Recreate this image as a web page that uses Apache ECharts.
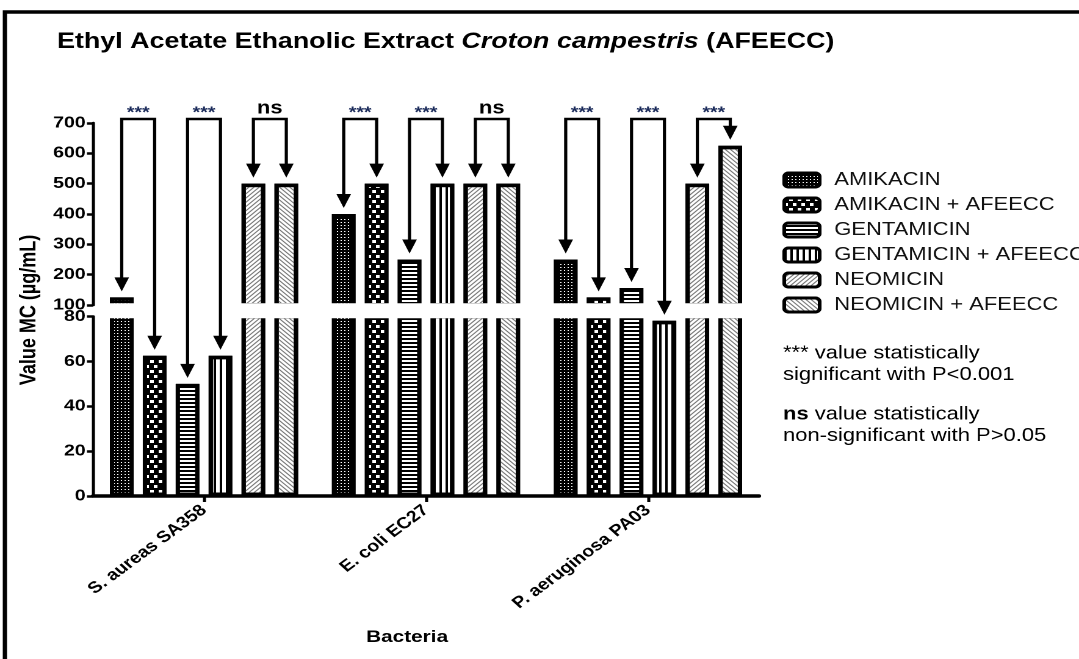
<!DOCTYPE html>
<html>
<head>
<meta charset="utf-8">
<script src="https://cdn.jsdelivr.net/npm/echarts@6/dist/echarts.min.js"></script>
<style>
  html, body { margin: 0; padding: 0; overflow: hidden; background: #fff; width: 1079px; height: 659px; }
  #chart { width: 884px; height: 659px; transform: scaleX(1.2206); transform-origin: 0 0; }
</style>
</head>
<body>
<div id="chart"></div>
<script>
// ---------------- data ----------------
const categories = ['S. aureas SA358', 'E. coli EC27', 'P. aeruginosa PA03'];
const seriesNames = ['AMIKACIN', 'AMIKACIN + AFEECC', 'GENTAMICIN', 'GENTAMICIN + AFEECC', 'NEOMICIN', 'NEOMICIN + AFEECC'];
const amikacin         = [125, 400, 250];
const amikacinAfeecc   = [62.5, 500, 125];
const gentamicin       = [50, 250, 156.25];
const gentamicinAfeecc = [62.5, 500, 78.125];
const neomicin         = [500, 500, 500];
const neomicinAfeecc   = [500, 500, 625];
const seriesValues = [amikacin, amikacinAfeecc, gentamicin, gentamicinAfeecc, neomicin, neomicinAfeecc];
const upperAxis = { min: 100, max: 700, interval: 100 };
const lowerAxis = { min: 0, max: 80, interval: 20 };
// significance comparisons: [category index, series a, series b, label]
const comparisons = [
  [0, 0, 1, '***'], [0, 2, 3, '***'], [0, 4, 5, 'ns'],
  [1, 0, 1, '***'], [1, 2, 3, '***'], [1, 4, 5, 'ns'],
  [2, 0, 1, '***'], [2, 2, 3, '***'], [2, 4, 5, '***']
];
const titleParts = ['Ethyl Acetate Ethanolic Extract ', 'Croton campestris', ' (AFEECC)'];
const yName = 'Value MC (µg/mL)';
const xName = 'Bacteria';

// ---------------- styles ----------------
const FONT = "'Liberation Sans', Arial, sans-serif";
const BORDER = 3.5;
const BAR_W = 19.4;
const BAR_GAP = 0.39;
const GRID_LEFT = 76.2, GRID_W = 545.6;
const patterns = [
  { color: '#000', decal: { symbol: 'rect', symbolSize: 1, color: '#fff', dashArrayX: [1, 2], dashArrayY: [1, 2] } },
  { color: '#000', decal: { symbol: 'rect', symbolSize: 1, color: '#fff', dashArrayX: [[3, 4], [0, 4, 3, 0]], dashArrayY: [3, 2] } },
  { color: '#000', decal: { symbol: 'rect', symbolSize: 1, color: '#fff', dashArrayX: [1, 0], dashArrayY: [2, 2] } },
  { color: '#fff', decal: { symbol: 'rect', symbolSize: 1, color: '#000', dashArrayX: [2, 3], dashArrayY: [1, 0] } },
  { color: '#fff', decal: { symbol: 'rect', symbolSize: 1, color: '#777', dashArrayX: [1, 0], dashArrayY: [1, 2], rotation: -Math.PI / 4 } },
  { color: '#fff', decal: { symbol: 'rect', symbolSize: 1, color: '#777', dashArrayX: [1, 0], dashArrayY: [1, 2], rotation: Math.PI / 4 } }
];

const chart = echarts.init(document.getElementById('chart'), null, { devicePixelRatio: 2 });

function makeSeries(gridIdx) {
  return seriesNames.map((name, i) => ({
    name: name,
    type: 'bar',
    xAxisIndex: gridIdx,
    yAxisIndex: gridIdx,
    data: seriesValues[i],
    barWidth: BAR_W,
    barGap: (BAR_GAP * 100) + '%',
    clip: true,
    itemStyle: { color: patterns[i].color, decal: patterns[i].decal, borderColor: '#000', borderWidth: BORDER },
    emphasis: { disabled: true }
  }));
}

const yAxisCommon = {
  type: 'value',
  axisLine: { show: true, lineStyle: { color: '#000', width: 2.5 } },
  axisTick: { show: true, length: 5, lineStyle: { color: '#000', width: 2.5 } },
  axisLabel: { color: '#000', fontFamily: FONT, fontWeight: 'bold', fontSize: 16, margin: 6 },
  splitLine: { show: false }
};

const option = {
  animation: false,
  backgroundColor: '#fff',
  title: {
    text: '{b|' + titleParts[0] + '}{i|' + titleParts[1] + '}{b|' + titleParts[2] + '}',
    left: 46.7, top: 31, padding: 0,
    textStyle: {
      rich: {
        b: { fontFamily: FONT, fontWeight: 'bold', fontSize: 22, color: '#000' },
        i: { fontFamily: FONT, fontWeight: 'bold', fontStyle: 'italic', fontSize: 22, color: '#000' }
      }
    }
  },
  legend: {
    data: seriesNames,
    orient: 'vertical',
    left: 636, top: 166,
    itemWidth: 29, itemHeight: 14, itemGap: 7,
    icon: 'roundRect',
    selectedMode: false,
    itemStyle: { borderColor: '#000', borderWidth: 3 },
    textStyle: { fontFamily: FONT, fontSize: 18, color: '#111', padding: [0, 0, 0, 7] }
  },
  grid: [
    { left: GRID_LEFT, width: GRID_W, top: 123, height: 182 },
    { left: GRID_LEFT, width: GRID_W, top: 316.5, height: 179.5 }
  ],
  xAxis: [
    { type: 'category', gridIndex: 0, data: categories, show: false },
    {
      type: 'category', gridIndex: 1, data: categories,
      axisLine: { show: true, lineStyle: { color: '#000', width: 3.5 } },
      axisTick: { show: true, alignWithLabel: true, length: 6, lineStyle: { color: '#000', width: 2.5 } },
      axisLabel: { color: '#000', fontFamily: FONT, fontWeight: 'bold', fontSize: 16, rotate: 42, margin: 12 },
      name: xName, nameLocation: 'middle', nameGap: 133,
      nameTextStyle: { color: '#000', fontFamily: FONT, fontWeight: 'bold', fontSize: 17, padding: [0, 31, 0, 0] }
    }
  ],
  yAxis: [
    Object.assign({}, yAxisCommon, { gridIndex: 0, min: upperAxis.min, max: upperAxis.max, interval: upperAxis.interval }),
    Object.assign({}, yAxisCommon, { gridIndex: 1, min: lowerAxis.min, max: lowerAxis.max, interval: lowerAxis.interval })
  ],
  series: makeSeries(0).concat(makeSeries(1))
};

chart.setOption(option);

// ------------- annotations computed from the chart's own scales -------------
function yPix(v) {
  return v > lowerAxis.max ? chart.convertToPixel({ yAxisIndex: 0 }, v) : chart.convertToPixel({ yAxisIndex: 1 }, v);
}
function barX(s, c) {
  try {
    const l = chart.getModel().getSeriesByIndex(6 + s).getData().getItemLayout(c);
    if (l && isFinite(l.x)) return l.x + l.width / 2;
  } catch (e) {}
  const cx = chart.convertToPixel({ xAxisIndex: 1 }, categories[c]);
  const gap = BAR_W * BAR_GAP;
  const total = 6 * BAR_W + 5 * gap;
  return cx - total / 2 + s * (BAR_W + gap) + BAR_W / 2;
}

const graphics = [];
// outer frame
graphics.push({ type: 'rect', z: 100, silent: true, shape: { x: 4, y: 12, width: 2000, height: 2000 },
  style: { fill: null, stroke: '#000', lineWidth: 3.5 } });
// white break between the two value segments
const y100 = yPix(upperAxis.min), y80 = yPix(lowerAxis.max);
graphics.push({ type: 'rect', z: 50, silent: true,
  shape: { x: GRID_LEFT + 2, y: y100 - BORDER / 2, width: GRID_W + 6, height: (y80 + BORDER / 2) - (y100 - BORDER / 2) },
  style: { fill: '#fff' } });

const bracketY = yPix(upperAxis.max) - 4;
const AH = 14, AW = 6, TIP = 6;
comparisons.forEach(([c, a, b, label]) => {
  const xa = barX(a, c), xb = barX(b, c);
  const ta = yPix(seriesValues[a][c]) - TIP, tb = yPix(seriesValues[b][c]) - TIP;
  graphics.push({ type: 'polyline', z: 60, silent: true,
    shape: { points: [[xa, ta - AH + 1], [xa, bracketY], [xb, bracketY], [xb, tb - AH + 1]] },
    style: { stroke: '#000', lineWidth: 2.6, fill: null, lineJoin: 'miter', lineCap: 'butt' } });
  [[xa, ta], [xb, tb]].forEach(([x, t]) => {
    graphics.push({ type: 'polygon', z: 60, silent: true,
      shape: { points: [[x, t], [x - AW, t - AH], [x + AW, t - AH]] },
      style: { fill: '#000' } });
  });
  const isNs = label === 'ns';
  graphics.push({ type: 'text', z: 60, silent: true, x: (xa + xb) / 2, y: isNs ? bracketY - 10.5 : bracketY - 6,
    style: { text: label, fontFamily: FONT, fontWeight: 'bold', fontSize: isNs ? 18 : 16, fill: isNs ? '#000' : '#1a2a5a',
      align: 'center', verticalAlign: 'middle', textAlign: 'center', textVerticalAlign: 'middle' } });
});

// y-axis title
graphics.push({ type: 'text', z: 60, silent: true, x: 24, y: 310, rotation: Math.PI / 2,
  style: { text: yName, fontFamily: FONT, fontWeight: 'bold', fontSize: 18, fill: '#000',
    align: 'center', verticalAlign: 'middle', textAlign: 'center', textVerticalAlign: 'middle' } });

// significance notes
graphics.push({ type: 'text', z: 60, silent: true, x: 641.5, y: 343,
  style: { text: '{n|*** value statistically}\n{n|significant with P<0.001}',
    rich: { n: { fontFamily: FONT, fontSize: 18, color: '#111', lineHeight: 21.5 } } } });
graphics.push({ type: 'text', z: 60, silent: true, x: 641.5, y: 404,
  style: { text: '{b|ns}{n| value statistically}\n{n|non-significant with P>0.05}',
    rich: { n: { fontFamily: FONT, fontSize: 18, color: '#111', lineHeight: 21.5 },
            b: { fontFamily: FONT, fontSize: 18, fontWeight: 'bold', color: '#000', lineHeight: 21.5 } } } });

chart.setOption({ graphic: { elements: graphics } });
</script>
</body>
</html>
